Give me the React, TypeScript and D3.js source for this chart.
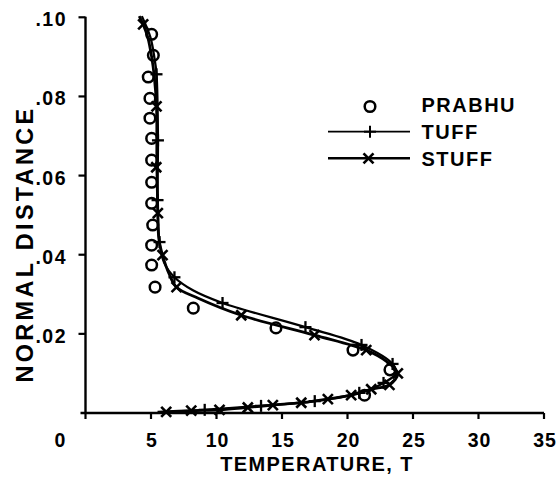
import React from "react";
import * as d3 from "d3";

// PRABHU (circles)
const PRABHU_T = [5.05, 5.18, 4.79, 4.92, 4.92, 5.05, 5.05, 5.05, 5.05, 5.13, 5.05, 5.05, 5.31, 8.23, 14.54, 20.42, 23.24, 21.3];
const PRABHU_D = [0.0957, 0.0904, 0.0849, 0.0795, 0.0745, 0.0694, 0.0639, 0.0583, 0.053, 0.0475, 0.0424, 0.0374, 0.0318, 0.0265, 0.0215, 0.0159, 0.0109, 0.0045];

// TUFF line (plus markers)
const TUFF_LINE_T = [4.3, 4.95, 5.25, 5.42, 5.53, 5.5, 5.65, 6.0, 6.79, 8.2, 10.46, 16.79, 21.07, 23.44, 23.7, 22.75, 20.9, 17.5, 13.4, 9.1, 5.9];
const TUFF_LINE_D = [0.1003, 0.095, 0.09, 0.0856, 0.0689, 0.0538, 0.0432, 0.038, 0.0343, 0.031, 0.0278, 0.0217, 0.0172, 0.0124, 0.01, 0.0076, 0.0051, 0.003, 0.0018, 0.0008, 0.0003];
const TUFF_MARK_T = [5.42, 5.53, 5.5, 5.65, 6.79, 10.46, 16.79, 21.07, 23.44, 22.75, 20.9, 17.5, 13.4, 9.1];
const TUFF_MARK_D = [0.0856, 0.0689, 0.0538, 0.0432, 0.0343, 0.0278, 0.0217, 0.0172, 0.0124, 0.0076, 0.0051, 0.003, 0.0018, 0.0008];

// STUFF line (x markers)
const STUFF_LINE_T = [4.1, 4.4, 4.75, 5.05, 5.25, 5.42, 5.45, 5.52, 5.6, 5.88, 6.4, 6.95, 8.6, 11.89, 17.48, 21.43, 23.0, 23.84, 23.2, 21.81, 20.28, 18.5, 16.47, 14.3, 12.39, 10.23, 8.07, 6.16, 5.5];
const STUFF_LINE_D = [0.1003, 0.0982, 0.095, 0.09, 0.085, 0.0775, 0.0621, 0.0505, 0.044, 0.0399, 0.035, 0.0318, 0.029, 0.0247, 0.0197, 0.0159, 0.013, 0.01, 0.0071, 0.006, 0.0045, 0.0035, 0.0026, 0.002, 0.0014, 0.0008, 0.0006, 0.0003, 0.0002];
const STUFF_MARK_T = [4.4, 5.42, 5.4, 5.52, 5.88, 6.95, 11.89, 17.48, 21.43, 23.84, 23.2, 21.81, 20.28, 18.5, 16.47, 14.3, 12.39, 10.23, 8.07, 6.16];
const STUFF_MARK_D = [0.0982, 0.0775, 0.0621, 0.0505, 0.0399, 0.0318, 0.0247, 0.0197, 0.0159, 0.01, 0.0071, 0.006, 0.0045, 0.0035, 0.0026, 0.002, 0.0014, 0.0008, 0.0006, 0.0003];

const X_TICKS = [0, 5, 10, 15, 20, 25, 30, 35];
const X_TICK_LABELS = ["0", "5", "10", "15", "20", "25", "30", "35"];
const Y_TICKS = [0.02, 0.04, 0.06, 0.08, 0.1];
const Y_TICK_LABELS = [".02", ".04", ".06", ".08", ".10"];
const LEGEND_LABELS = ["PRABHU", "TUFF", "STUFF"];

const FONT = "'Liberation Sans', Arial, Helvetica, sans-serif";

export default function App() {
  const x = d3.scaleLinear().domain([0, 35]).range([85.5, 544]);
  const y = d3.scaleLinear().domain([0, 0.1]).range([413, 17.3]);

  const line = d3
    .line<[number, number]>()
    .x((p) => x(p[0]))
    .y((p) => y(p[1]))
    .curve(d3.curveCatmullRom.alpha(0.5));

  const tuffPts: [number, number][] = TUFF_LINE_T.map((t, i) => [t, TUFF_LINE_D[i]]);
  const stuffPts: [number, number][] = STUFF_LINE_T.map((t, i) => [t, STUFF_LINE_D[i]]);

  const plus = (cx: number, cy: number, s: number, k: string, sw = 2.3) => (
    <g key={k} stroke="#000" strokeWidth={sw}>
      <line x1={cx - s} x2={cx + s} y1={cy} y2={cy} />
      <line x1={cx} x2={cx} y1={cy - s} y2={cy + s} />
    </g>
  );
  const cross = (cx: number, cy: number, s: number, k: string, sw = 2.6) => (
    <g key={k} stroke="#000" strokeWidth={sw}>
      <line x1={cx - s} x2={cx + s} y1={cy - s} y2={cy + s} />
      <line x1={cx - s} x2={cx + s} y1={cy + s} y2={cy - s} />
    </g>
  );

  const x0 = x(0);
  const y0 = y(0);

  return (
    <svg
      width={560}
      height={477}
      style={{ position: "absolute", left: 0, top: 0, background: "#fff" }}
      fontFamily={FONT}
      fontWeight="bold"
    >
      <rect width={560} height={477} fill="#fff" />
      {/* axes */}
      <line x1={x0} x2={x0} y1={y(0.1) - 0.5} y2={y0 + 1} stroke="#000" strokeWidth={2.4} />
      <line x1={x0 - 5} x2={x(35)} y1={y0} y2={y0} stroke="#000" strokeWidth={2.4} />
      {Y_TICKS.map((t, i) => (
        <g key={"yt" + i}>
          <line x1={x0 - 7} x2={x0} y1={y(t)} y2={y(t)} stroke="#000" strokeWidth={2.2} />
          <text x={67} y={y(t) + 9} textAnchor="end" fontSize={19.5} letterSpacing={1.5}>
            {Y_TICK_LABELS[i]}
          </text>
        </g>
      ))}
      {X_TICKS.map((t, i) => (
        <g key={"xt" + i}>
          <line x1={x(t)} x2={x(t)} y1={y0} y2={y0 + 6} stroke="#000" strokeWidth={2.2} />
          <text
            x={x(t) + (i === 0 ? -25 : 1)}
            y={446.5}
            textAnchor="middle"
            fontSize={19.5}
            letterSpacing={1}
          >
            {X_TICK_LABELS[i]}
          </text>
        </g>
      ))}
      <text x={317} y={471} textAnchor="middle" fontSize={20} letterSpacing={1.4}>
        TEMPERATURE, T
      </text>
      <text
        transform="translate(33,244) rotate(-90)"
        textAnchor="middle"
        fontSize={23.5}
        letterSpacing={3.3}
      >
        NORMAL DISTANCE
      </text>

      {/* curves */}
      <path d={line(tuffPts) || ""} fill="none" stroke="#000" strokeWidth={2.3} />
      <path d={line(stuffPts) || ""} fill="none" stroke="#000" strokeWidth={2.8} />
      {TUFF_MARK_T.map((t, i) => plus(x(t), y(TUFF_MARK_D[i]), 6, "tp" + i))}
      {STUFF_MARK_T.map((t, i) => cross(x(t), y(STUFF_MARK_D[i]), 5, "sx" + i))}
      {PRABHU_T.map((t, i) => (
        <circle key={"pc" + i} cx={x(t)} cy={y(PRABHU_D[i])} r={5.3} fill="none" stroke="#000" strokeWidth={2.5} />
      ))}

      {/* legend */}
      <circle cx={370} cy={106.5} r={5.3} fill="none" stroke="#000" strokeWidth={2.5} />
      <line x1={328} x2={410} y1={131.7} y2={131.7} stroke="#000" strokeWidth={1.8} />
      {plus(370, 131.7, 6, "lgp", 2)}
      <line x1={328} x2={410} y1={158.3} y2={158.3} stroke="#000" strokeWidth={2.4} />
      {cross(368.5, 158.3, 5, "lgx")}
      {LEGEND_LABELS.map((l, i) => (
        <text key={"lg" + i} x={421.5} y={[112, 139, 165.5][i]} fontSize={20} letterSpacing={1.5}>
          {l}
        </text>
      ))}
    </svg>
  );
}
